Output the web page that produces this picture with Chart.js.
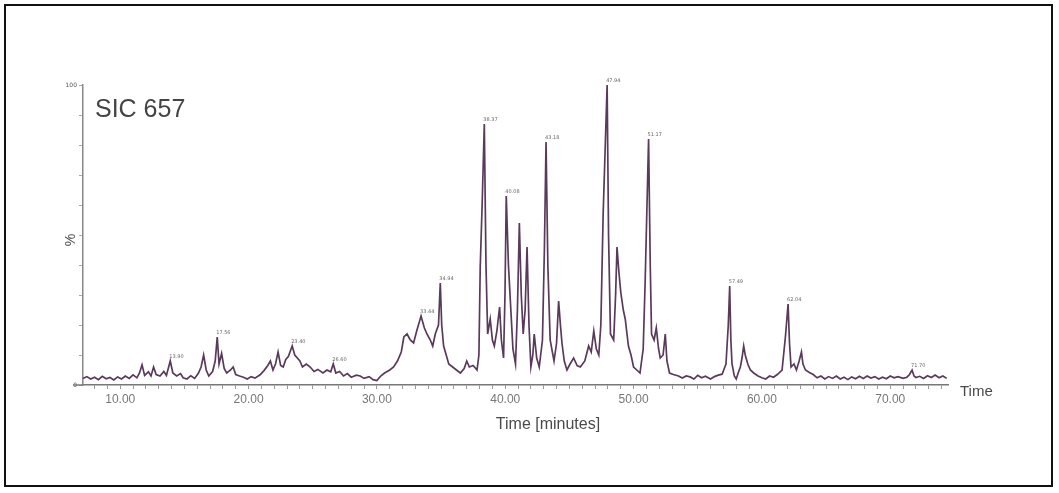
<!DOCTYPE html>
<html>
<head>
<meta charset="utf-8">
<script src="https://cdn.jsdelivr.net/npm/chart.js@4.4.1/dist/chart.umd.min.js"></script>
<style>
    html, body { margin: 0; padding: 0; background: #fff; }
    #wrap { width: 1059px; height: 493px; }
</style>
</head>
<body>
<div id="wrap"><canvas id="sic"></canvas></div>
<script>
// retention time (minutes) and relative intensity (%)
const times = [
    7.1, 7.4, 7.7, 8.0, 8.3, 8.6, 8.9, 9.2, 9.5, 9.8, 10.1, 10.4, 10.7, 11.0, 11.3, 11.5, 11.7, 11.9,
    12.2, 12.4, 12.6, 12.8, 13.1, 13.4, 13.6, 13.9, 14.1, 14.4, 14.7, 14.9, 15.2, 15.5, 15.8, 16.1,
    16.3, 16.5, 16.7, 16.9, 17.2, 17.4, 17.56, 17.7, 17.9, 18.1, 18.3, 18.6, 18.8, 19.0, 19.3, 19.6,
    19.9, 20.2, 20.5, 20.9, 21.2, 21.5, 21.7, 21.9, 22.1, 22.3, 22.5, 22.7, 22.9, 23.1, 23.4, 23.6,
    23.8, 24.0, 24.2, 24.5, 24.8, 25.1, 25.4, 25.8, 26.1, 26.4, 26.6, 26.8, 27.1, 27.4, 27.7, 28.0,
    28.4, 28.7, 29.0, 29.4, 29.7, 30.0, 30.3, 30.6, 31.0, 31.3, 31.6, 31.9, 32.1, 32.35, 32.6, 32.86,
    33.1, 33.44, 33.7, 33.9, 34.16, 34.35, 34.55, 34.8, 34.94, 35.05, 35.2, 35.4, 35.6, 35.9, 36.2,
    36.5, 36.8, 37.0, 37.2, 37.5, 37.8, 37.95, 38.05, 38.2, 38.37, 38.5, 38.63, 38.83, 39.0, 39.15,
    39.35, 39.56, 39.7, 39.87, 39.98, 40.08, 40.25, 40.45, 40.6, 40.8, 40.95, 41.1, 41.25, 41.4,
    41.55, 41.7, 41.85, 42.0, 42.15, 42.26, 42.45, 42.65, 42.9, 43.05, 43.18, 43.32, 43.5, 43.8,
    44.0, 44.16, 44.3, 44.42, 44.6, 44.81, 45.05, 45.33, 45.6, 45.85, 46.2, 46.5, 46.7, 46.9, 47.1,
    47.29, 47.45, 47.63, 47.94, 48.05, 48.2, 48.45, 48.6, 48.71, 48.85, 49.0, 49.2, 49.35, 49.6,
    49.8, 50.0, 50.25, 50.5, 50.75, 50.9, 51.17, 51.3, 51.4, 51.6, 51.77, 51.95, 52.08, 52.3, 52.47,
    52.6, 52.8, 53.1, 53.5, 53.8, 54.1, 54.4, 54.7, 55.0, 55.3, 55.6, 56.0, 56.3, 56.6, 56.9, 57.2,
    57.38, 57.49, 57.58, 57.67, 57.85, 58.0, 58.15, 58.32, 58.45, 58.58, 58.7, 58.9, 59.1, 59.36,
    59.7, 60.0, 60.3, 60.6, 60.9, 61.2, 61.57, 61.83, 62.04, 62.15, 62.27, 62.5, 62.69, 62.9, 63.08,
    63.2, 63.39, 63.7, 64.0, 64.3, 64.6, 64.9, 65.2, 65.5, 65.8, 66.1, 66.4, 66.7, 67.0, 67.3, 67.6,
    67.9, 68.2, 68.5, 68.8, 69.1, 69.4, 69.7, 70.0, 70.3, 70.6, 71.0, 71.3, 71.5, 71.7, 71.85, 72.0,
    72.3, 72.6, 72.9, 73.2, 73.5, 73.8, 74.1, 74.4
];
const intensity = [
    2.2, 2.8, 2.0, 2.6, 1.8, 2.9, 2.1, 2.5, 1.7, 2.7, 2.0, 3.0, 2.2, 3.4, 2.4, 4.0, 6.7, 3.2,
    4.4, 3.0, 6.0, 3.5, 3.0, 4.5, 3.2, 8.0, 4.0, 3.0, 3.8, 2.4, 2.0, 3.1, 2.2, 4.0,
    6.0, 10.0, 5.0, 3.0, 4.5, 8.0, 16.0, 7.0, 10.5, 5.5, 4.0, 5.0, 6.0, 3.5, 3.0, 2.6,
    2.0, 2.8, 2.3, 3.4, 4.8, 6.5, 8.0, 5.0, 7.0, 11.0, 6.5, 6.0, 8.5, 9.5, 13.0, 10.0,
    9.0, 8.0, 6.0, 7.0, 6.0, 4.5, 5.2, 4.0, 5.0, 4.4, 7.0, 4.0, 4.5, 3.0, 3.8, 2.6,
    3.3, 3.0, 2.2, 2.8, 1.8, 1.5, 3.0, 4.0, 5.0, 6.0, 8.0, 11.0, 16.0, 17.0, 15.0, 14.0,
    18.0, 23.0, 19.0, 17.0, 15.0, 13.0, 17.0, 20.0, 34.0, 20.0, 13.0, 10.0, 7.0, 6.0, 5.0,
    4.0, 5.5, 8.0, 6.0, 6.5, 5.0, 10.0, 39.0, 60.0, 87.0, 40.0, 17.0, 22.0, 15.0, 13.0,
    18.0, 26.0, 15.0, 9.0, 30.0, 63.0, 40.0, 24.0, 12.0, 7.0, 25.0, 54.0, 30.0, 17.0,
    25.0, 46.0, 20.0, 6.0, 10.0, 17.0, 9.0, 6.0, 15.0, 45.0, 81.0, 40.0, 15.0, 8.0,
    14.0, 28.0, 20.0, 14.0, 8.0, 5.0, 7.0, 9.0, 6.5, 6.0, 8.0, 13.0, 11.0, 18.0, 12.0,
    10.0, 20.0, 57.0, 100.0, 50.0, 17.0, 15.0, 30.0, 46.0, 38.0, 31.0, 25.0, 22.0, 13.0,
    10.0, 6.0, 5.0, 4.0, 12.0, 34.0, 82.0, 40.0, 17.0, 15.0, 19.0, 12.0, 9.0, 10.0, 17.0,
    8.0, 4.0, 3.5, 3.0, 2.3, 3.0, 2.7, 2.0, 3.2, 2.4, 2.9, 2.0, 2.8, 3.3, 3.6, 7.0,
    20.0, 33.0, 15.0, 7.0, 3.0, 2.0, 4.0, 6.0, 9.0, 13.0, 10.0, 7.0, 5.0, 4.0,
    3.0, 2.4, 2.0, 3.0, 2.6, 3.5, 5.0, 16.0, 27.0, 14.0, 6.0, 7.0, 5.0, 8.0, 11.0,
    7.0, 5.0, 4.2, 3.5, 2.4, 3.0, 2.0, 2.8, 2.2, 3.0, 2.0, 2.6, 1.8, 2.7, 2.1, 2.9,
    2.2, 3.0, 2.3, 2.8, 2.0, 2.6, 2.1, 3.0, 2.4, 2.8, 2.2, 2.6, 3.5, 5.0, 3.0, 2.5,
    2.9, 2.2, 3.1, 2.5, 3.3, 2.4, 3.0, 2.2
];

// peaks that carry a retention-time label
const labelledPeaks = [13.9, 17.56, 23.4, 26.6, 33.44, 34.94, 38.37, 40.08, 43.18, 47.94, 51.17, 57.49, 62.04, 71.7];

// axis ticks
const majorTicks = [10, 20, 30, 40, 50, 60, 70];
const timeMin = 7.1;
const timeMax = 74.5;

const traceData = times.map((t, i) => ({ x: t, y: intensity[i] }));

const minorTicks = [];
for (let m = 8; m <= 74; m++) minorTicks.push(m);

// frame, free text and peak labels
const decorations = {
    id: 'decorations',
    beforeDraw(chart) {
        const ctx = chart.ctx;
        ctx.save();
        ctx.fillStyle = '#fff';
        ctx.fillRect(0, 0, chart.width, chart.height);
        ctx.restore();
    },
    afterDraw(chart) {
        const ctx = chart.ctx;
        const xs = chart.scales.x;
        const ys = chart.scales.y;
        ctx.save();

        // outer frame
        ctx.strokeStyle = '#111';
        ctx.lineWidth = 2;
        ctx.strokeRect(5, 5, 1047, 481);

        // x axis line runs a little past the y axis
        ctx.strokeStyle = '#777';
        ctx.lineWidth = 1.5;
        ctx.beginPath();
        ctx.moveTo(73, ys.getPixelForValue(0));
        ctx.lineTo(xs.left, ys.getPixelForValue(0));
        ctx.stroke();

        ctx.fillStyle = '#444';
        ctx.font = '25px "Liberation Sans", Arial, sans-serif';
        ctx.textBaseline = 'alphabetic';
        ctx.textAlign = 'left';
        ctx.fillText('SIC 657', 95, 117);

        ctx.fillStyle = '#4a4a4a';
        ctx.font = '16px "Liberation Sans", Arial, sans-serif';
        ctx.textAlign = 'center';
        ctx.textBaseline = 'middle';
        ctx.fillText('Time [minutes]', 548, 425);

        ctx.font = '15px "Liberation Sans", Arial, sans-serif';
        ctx.textAlign = 'left';
        ctx.fillText('Time', 960, 392);

        ctx.save();
        ctx.translate(71, 240);
        ctx.rotate(-Math.PI / 2);
        ctx.font = '14px "Liberation Sans", Arial, sans-serif';
        ctx.textAlign = 'center';
        ctx.fillText('%', 0, 0);
        ctx.restore();

        // retention time labels above the peaks
        ctx.fillStyle = '#666';
        ctx.font = '5px "DejaVu Sans", sans-serif';
        ctx.textAlign = 'left';
        ctx.textBaseline = 'bottom';
        for (const t of labelledPeaks) {
            const i = times.indexOf(t);
            if (i < 0) continue;
            const px = xs.getPixelForValue(t);
            const py = ys.getPixelForValue(intensity[i]);
            ctx.fillText(t.toFixed(2), px - 1, py - 2);
        }
        ctx.restore();
    }
};

const config = {
    type: 'line',
    data: {
        datasets: [{
            data: traceData,
            borderColor: '#5a3a5a',
            borderWidth: 1.7,
            pointRadius: 0,
            tension: 0,
            fill: false
        }]
    },
    options: {
        responsive: false,
        animation: false,
        layout: { padding: { left: 43, top: 85, right: 111, bottom: 78 } },
        plugins: {
            legend: { display: false },
            tooltip: { enabled: false }
        },
        scales: {
            x: {
                type: 'linear',
                min: timeMin,
                max: timeMax,
                afterFit: (s) => { s.height = 30; },
                afterBuildTicks: (s) => { s.ticks = minorTicks.map(v => ({ value: v })); },
                border: { color: '#777', width: 1.5 },
                grid: { drawOnChartArea: false, tickLength: 4, color: '#999', tickWidth: 1 },
                ticks: {
                    autoSkip: false,
                    maxRotation: 0,
                    padding: 3,
                    color: '#777',
                    font: { family: '"Liberation Sans", Arial, sans-serif', size: 12 },
                    callback: (v) => majorTicks.includes(v) ? v.toFixed(2) : ''
                }
            },
            y: {
                min: 0,
                max: 100,
                afterFit: (s) => { s.width = 40; },
                border: { color: '#888', width: 1.5 },
                grid: { drawOnChartArea: false, tickLength: 4, color: '#aaa' },
                ticks: {
                    stepSize: 10,
                    padding: 2,
                    color: '#555',
                    font: { family: '"DejaVu Sans", sans-serif', size: 6 },
                    callback: (v) => (v === 0 || v === 100) ? String(v) : ''
                }
            }
        }
    },
    plugins: [decorations]
};

const canvas = document.getElementById('sic');
canvas.width = 1059;
canvas.height = 493;
new Chart(canvas.getContext('2d'), config);
</script>
</body>
</html>
